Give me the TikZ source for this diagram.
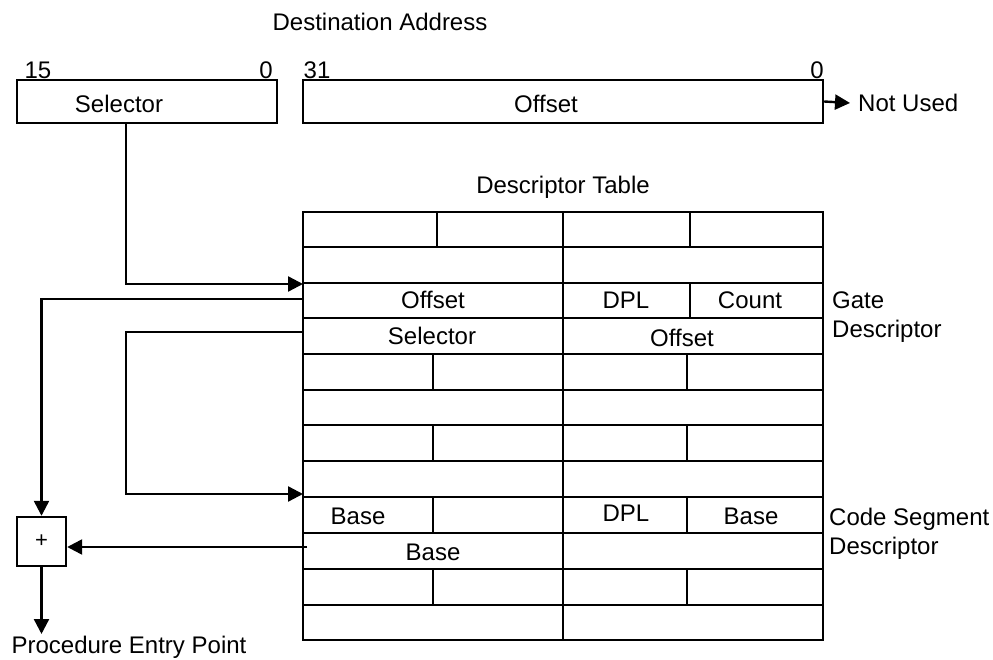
\documentclass[tikz,border=0pt]{standalone}
\usepackage{fontspec}
\setmainfont{Liberation Sans}
\usetikzlibrary{arrows.meta}
\begin{document}
\begin{tikzpicture}[x=1pt,y=-1pt,
  every node/.style={font=\fontsize{24}{29}\selectfont, inner sep=0pt},
  lbl/.style={anchor=center},
  regbox/.style={draw, line width=2.4pt, minimum width=#1, minimum height=43pt},
  tline/.style={line width=2.6pt},
  arr/.style={line width=2.4pt, -{Triangle[length=15pt,width=15pt]}},
  plusbox/.style={draw, line width=2.4pt, minimum width=49pt, minimum height=49pt, font=\fontsize{22}{26}\selectfont}
]
\useasboundingbox (0,0) rectangle (993,660);

% Destination address
\node[lbl] (dest) at (380,22) {Destination Address};
\node[lbl] (b15) at (38,70) {15};
\node[lbl] (b0a) at (266,70) {0};
\node[lbl] (b31) at (317,70) {31};
\node[lbl] (b0b) at (817,70) {0};
\node[regbox=260pt] (selbox) at (147,101.5) {};
\node[lbl] (seltxt) at (119,104) {Selector};
\node[regbox=520pt] (offbox) at (563,101.5) {};
\node[lbl] (offtxt) at (546,104) {Offset};
\node[anchor=west] (nu) at (858,103) {Not Used};
\draw[arr] (offbox.east) -- ([xshift=-8pt]nu.west);

% Descriptor table
\node[lbl] (dtitle) at (563,187) {Descriptor Table};
\draw[tline] (303,212) rectangle (823,640);
\draw[tline] (563,212) -- (563,640);
\foreach \y in {247,283,318,354,390,425,461,497,533,569,605}
  \draw[tline] (303,\y) -- (823,\y);
% splits
\draw[tline] (437,212) -- (437,247) (690,212) -- (690,247);
\draw[tline] (690,283) -- (690,318);
\foreach \a/\b in {354/390,425/461,497/533,569/605}
  \draw[tline] (433,\a) -- (433,\b) (687,\a) -- (687,\b);

% cell texts
\node[lbl] (gofs) at (433,300) {Offset};
\node[lbl] (gdpl) at (626,300) {DPL};
\node[lbl] (gcnt) at (750,300) {Count};
\node[lbl] (gsel) at (432,336) {Selector};
\node[lbl] (gofs2) at (682,338) {Offset};
\node[lbl] (cbase1) at (358,516) {Base};
\node[lbl] (cdpl) at (626,513) {DPL};
\node[lbl] (cbase2) at (751,516) {Base};
\node[lbl] (cbase3) at (433,552) {Base};

\node[anchor=west, align=left, font=\fontsize{24}{29}\selectfont] (gate) at (832,317) {Gate\\Descriptor};
\node[anchor=west, align=left, font=\fontsize{24}{29}\selectfont] (code) at (829,534) {Code Segment\\Descriptor};

% plus box
\node[plusbox] (plus) at (41.5,541.5) {+};
\node[lbl] (pep) at (129,647) {Procedure Entry Point};

% connector coordinates
\coordinate (selout) at (126,123);
\coordinate (gin) at (303,284);
\coordinate (gofsout) at (303,299);
\coordinate (gselout) at (303,332);
\coordinate (turn) at (126,494);
\coordinate (cin) at (303,494);
\coordinate (cbout) at (307,547);
\coordinate (pepin) at (41.5,634);

\draw[arr] (selout) |- (gin);
\draw[arr] (gofsout) -| (plus.north);
\draw[arr] (gselout) -| (turn) -- (cin);
\draw[arr] (cbout) -- (plus.east |- cbout);
\draw[arr] (plus.south) -- (pepin);
\end{tikzpicture}
\end{document}
